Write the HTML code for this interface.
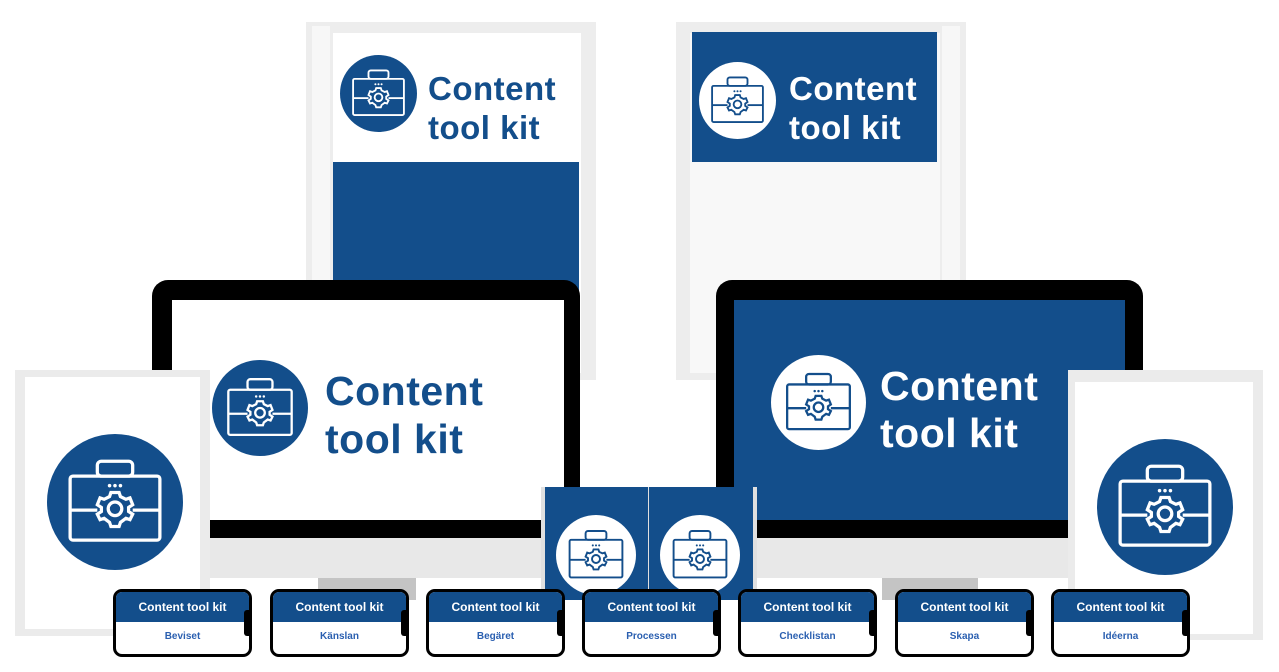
<!DOCTYPE html>
<html><head><meta charset="utf-8">
<style>
*{margin:0;padding:0;box-sizing:border-box}
body{width:1279px;height:672px;background:#fff;position:relative;overflow:hidden;font-family:"Liberation Sans",sans-serif}
.a{position:absolute}
.t{position:absolute;font-weight:bold;line-height:1;letter-spacing:0.5px}
.ph{position:absolute;width:139px;height:68px;border:3px solid #000;border-radius:9px;background:#fff;overflow:hidden}
.ph .h{height:30px;background:#134e8b;color:#fff;font-size:12px;font-weight:bold;text-align:center;line-height:30px}
.ph .b{color:#2a5fb0;font-size:10px;font-weight:bold;text-align:center;line-height:30px}
.ph .n{position:absolute;right:-1px;top:18px;width:6px;height:26px;background:#000;border-radius:3px 0 0 3px}
svg.i{position:absolute}
</style></head><body>
<svg width="0" height="0" style="position:absolute">
<defs>
<symbol id="bw" viewBox="-50 -50 100 100">
<circle r="50" fill="#134e8b"/>
<g fill="none" stroke="#fff" stroke-width="2.4">
<rect x="-33" y="-19" width="66" height="47" rx="2"/>
<rect x="-13" y="-30" width="26" height="11" rx="3"/>
<line x1="-33" y1="6" x2="-13" y2="6"/><line x1="13" y1="6" x2="33" y2="6"/>
<circle cx="0" cy="5" r="5"/>
<path d="M-3,-7 L3,-7 L4,-4 L8,-2 L11,-3 L13,2 L10,4 L10,7 L13,9 L11,13 L8,12 L4,15 L3,18 L-3,18 L-4,15 L-8,12 L-11,13 L-13,9 L-10,7 L-10,4 L-13,2 L-11,-3 L-8,-2 L-4,-4 Z"/>
</g>
<g fill="#fff"><circle cx="-4" cy="-12" r="1.3"/><circle cx="0" cy="-12" r="1.3"/><circle cx="4" cy="-12" r="1.3"/></g>
</symbol>
<symbol id="wb" viewBox="-50 -50 100 100">
<circle r="50" fill="#fff"/>
<g fill="none" stroke="#134e8b" stroke-width="2.4">
<rect x="-33" y="-19" width="66" height="47" rx="2"/>
<rect x="-13" y="-30" width="26" height="11" rx="3"/>
<line x1="-33" y1="6" x2="-13" y2="6"/><line x1="13" y1="6" x2="33" y2="6"/>
<circle cx="0" cy="5" r="5"/>
<path d="M-3,-7 L3,-7 L4,-4 L8,-2 L11,-3 L13,2 L10,4 L10,7 L13,9 L11,13 L8,12 L4,15 L3,18 L-3,18 L-4,15 L-8,12 L-11,13 L-13,9 L-10,7 L-10,4 L-13,2 L-11,-3 L-8,-2 L-4,-4 Z"/>
</g>
<g fill="#134e8b"><circle cx="-4" cy="-12" r="1.3"/><circle cx="0" cy="-12" r="1.3"/><circle cx="4" cy="-12" r="1.3"/></g>
</symbol>
</defs></svg>

<!-- Book 1 -->
<div class="a" style="left:306px;top:22px;width:290px;height:358px;background:#ededed"></div>
<div class="a" style="left:312px;top:26px;width:18px;height:350px;background:#f7f7f7"></div>
<div class="a" style="left:333px;top:33px;width:248px;height:340px;background:#fff"></div>
<div class="a" style="left:333px;top:162px;width:246px;height:211px;background:#134e8b"></div>
<svg class="i" style="left:340px;top:55px" width="77" height="77"><use href="#bw"/></svg>
<div class="t" style="left:428px;top:69px;font-size:33px;color:#134e8b;line-height:39px">Content<br>tool kit</div>

<!-- Book 2 -->
<div class="a" style="left:676px;top:22px;width:290px;height:358px;background:#ededed"></div>
<div class="a" style="left:942px;top:26px;width:18px;height:350px;background:#f7f7f7"></div>
<div class="a" style="left:690px;top:33px;width:250px;height:340px;background:#f8f8f8"></div>
<div class="a" style="left:692px;top:32px;width:245px;height:130px;background:#134e8b"></div>
<svg class="i" style="left:699px;top:62px" width="77" height="77"><use href="#wb"/></svg>
<div class="t" style="left:789px;top:69px;font-size:33px;color:#fff;line-height:39px">Content<br>tool kit</div>

<!-- Left monitor -->
<div class="a" style="left:152px;top:280px;width:428px;height:260px;background:#000;border-radius:16px 16px 0 0"></div>
<div class="a" style="left:172px;top:300px;width:392px;height:220px;background:#fff"></div>
<div class="a" style="left:152px;top:538px;width:428px;height:40px;background:#e8e8e8"></div>
<div class="a" style="left:318px;top:578px;width:98px;height:22px;background:#c4c4c4"></div>
<svg class="i" style="left:212px;top:360px" width="96" height="96"><use href="#bw"/></svg>
<div class="t" style="left:325px;top:367px;font-size:41px;color:#134e8b;line-height:48px">Content<br>tool kit</div>

<!-- Right monitor -->
<div class="a" style="left:716px;top:280px;width:427px;height:260px;background:#000;border-radius:16px 16px 0 0"></div>
<div class="a" style="left:734px;top:300px;width:391px;height:220px;background:#134e8b"></div>
<div class="a" style="left:716px;top:538px;width:427px;height:40px;background:#e8e8e8"></div>
<div class="a" style="left:882px;top:578px;width:96px;height:22px;background:#c4c4c4"></div>
<svg class="i" style="left:771px;top:355px" width="95" height="95"><use href="#wb"/></svg>
<div class="t" style="left:880px;top:363px;font-size:41px;color:#fff;line-height:47px">Content<br>tool kit</div>

<!-- Left tablet -->
<div class="a" style="left:15px;top:370px;width:195px;height:266px;background:#ebebeb"></div>
<div class="a" style="left:25px;top:377px;width:175px;height:252px;background:#fff"></div>
<svg class="i" style="left:47px;top:434px" width="136" height="136"><use href="#bw"/></svg>

<!-- Right tablet -->
<div class="a" style="left:1068px;top:370px;width:195px;height:270px;background:#ebebeb"></div>
<div class="a" style="left:1075px;top:382px;width:178px;height:252px;background:#fff"></div>
<svg class="i" style="left:1097px;top:439px" width="136" height="136"><use href="#bw"/></svg>

<!-- Center box -->
<div class="a" style="left:541px;top:487px;width:216px;height:113px;background:#e0e0e0"></div>
<div class="a" style="left:545px;top:487px;width:103px;height:113px;background:#134e8b"></div>
<div class="a" style="left:649px;top:487px;width:104px;height:113px;background:#134e8b"></div>
<svg class="i" style="left:556px;top:515px" width="80" height="80"><use href="#wb"/></svg>
<svg class="i" style="left:660px;top:515px" width="80" height="80"><use href="#wb"/></svg>

<!-- Phones -->
<div class="ph" style="left:113px;top:589px"><div class="h">Content tool kit</div><div class="b">Beviset</div><div class="n"></div></div>
<div class="ph" style="left:270px;top:589px"><div class="h">Content tool kit</div><div class="b">Känslan</div><div class="n"></div></div>
<div class="ph" style="left:426px;top:589px"><div class="h">Content tool kit</div><div class="b">Begäret</div><div class="n"></div></div>
<div class="ph" style="left:582px;top:589px"><div class="h">Content tool kit</div><div class="b">Processen</div><div class="n"></div></div>
<div class="ph" style="left:738px;top:589px"><div class="h">Content tool kit</div><div class="b">Checklistan</div><div class="n"></div></div>
<div class="ph" style="left:895px;top:589px"><div class="h">Content tool kit</div><div class="b">Skapa</div><div class="n"></div></div>
<div class="ph" style="left:1051px;top:589px"><div class="h">Content tool kit</div><div class="b">Idéerna</div><div class="n"></div></div>
</body></html>
